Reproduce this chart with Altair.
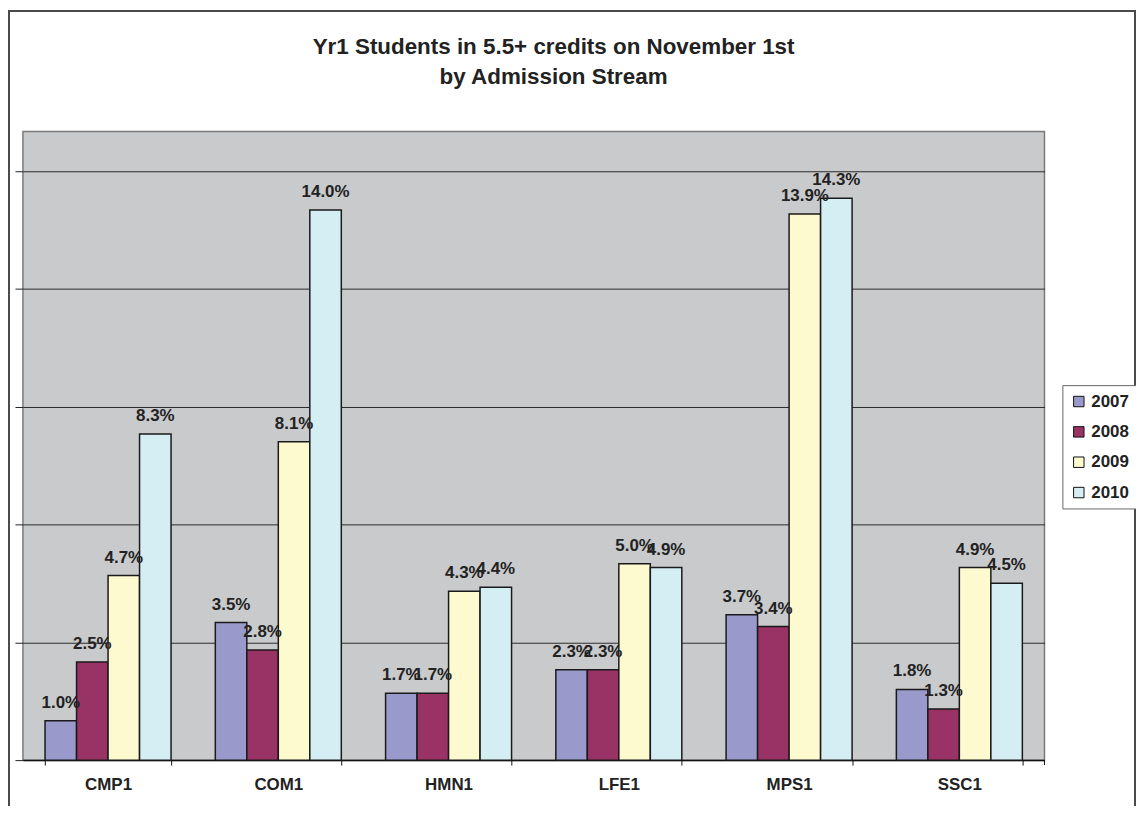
import altair as alt
import pandas as pd

streams = ["CMP1", "COM1", "HMN1", "LFE1", "MPS1", "SSC1"]
years = ["2007", "2008", "2009", "2010"]
v2007 = [1.0, 3.5, 1.7, 2.3, 3.7, 1.8]
v2008 = [2.5, 2.8, 1.7, 2.3, 3.4, 1.3]
v2009 = [4.7, 8.1, 4.3, 5.0, 13.9, 4.9]
v2010 = [8.3, 14.0, 4.4, 4.9, 14.3, 4.5]
colors = ["#9999CC", "#993366", "#FDFACF", "#D4EEF4"]
grid_values = [0, 3, 6, 9, 12, 15]
title_lines = ["Yr1 Students in 5.5+ credits on November 1st", "by Admission Stream"]

rows = []
for yr, vals in zip(years, [v2007, v2008, v2009, v2010]):
    for s, v in zip(streams, vals):
        rows.append({"stream": s, "year": yr, "value": v, "label": f"{v:.1f}%"})
df = pd.DataFrame(rows)

F = "Liberation Sans"
W, H = 1027, 632

x = alt.X(
    "stream:N",
    sort=streams,
    title=None,
    scale=alt.Scale(paddingInner=0.26, paddingOuter=0.13),
    axis=alt.Axis(
        labelAngle=0,
        tickBand="extent",
        tickSize=5,
        tickColor="#111111",
        domainColor="#111111",
        domainWidth=1.5,
        labelFont=F,
        labelFontSize=17,
        labelFontWeight="bold",
        labelColor="#222222",
        labelPadding=12,
        grid=False,
    ),
)
xo = alt.XOffset("year:N", sort=years, scale=alt.Scale(paddingInner=0, paddingOuter=0))
y = alt.Y(
    "value:Q",
    title=None,
    scale=alt.Scale(domain=[0, 16], nice=False),
    axis=alt.Axis(
        values=grid_values,
        labels=False,
        ticks=True,
        tickSize=8,
        tickColor="#222222",
        grid=True,
        gridColor="#2a2a2a",
        gridWidth=1,
        domain=False,
    ),
)

bars = alt.Chart(df).mark_bar(stroke="#1a1a1a", strokeWidth=1.5).encode(
    x=x,
    xOffset=xo,
    y=y,
    color=alt.Color(
        "year:N",
        sort=years,
        scale=alt.Scale(domain=years, range=colors),
        legend=alt.Legend(
            title=None,
            orient="none",
            legendX=1045,
            legendY=255,
            symbolType="square",
            symbolSize=110,
            symbolStrokeColor="#111111",
            symbolStrokeWidth=1,
            labelFont=F,
            labelFontSize=17,
            labelFontWeight="bold",
            labelColor="#222222",
            labelOffset=4,
            rowPadding=12.5,
            padding=8,
            strokeColor="#666666",
            fillColor="white",
        ),
    ),
)

labels = alt.Chart(df).mark_text(
    dy=-13, baseline="alphabetic", fontSize=17, fontWeight="bold", font=F, color="#222222"
).encode(x=x, xOffset=xo, y=y, text="label:N")

frame = alt.Chart(alt.Data(values=[{"f": 1}])).mark_rect(
    fillOpacity=0, stroke="#4a4a4a", strokeWidth=2
).encode(
    x=alt.value(-14), x2=alt.value(1118), y=alt.value(-121), y2=alt.value(720)
)

end_tick = alt.Chart(alt.Data(values=[{"f": 1}])).mark_rule(color="#111111").encode(
    x=alt.value(W), y=alt.value(H), y2=alt.value(H + 5)
)

chart = (
    alt.layer(frame, bars, labels, end_tick)
    .properties(
        width=W,
        height=H,
        background="white",
        padding={"left": 15, "top": 122, "right": 92, "bottom": 44},
        autosize=alt.AutoSizeParams(type="none"),
        title=alt.Title(
            title_lines,
            fontSize=22.5,
            font=F,
            fontWeight="bold",
            color="#222222",
            anchor="middle",
            dx=20,
            offset=-79,
            lineHeight=30,
        ),
    )
    .configure_view(fill="#C9CACC", stroke="#7a7a7a", strokeWidth=1.5)
)

chart.save("out.html", embed_options={"renderer": "svg", "actions": False})
